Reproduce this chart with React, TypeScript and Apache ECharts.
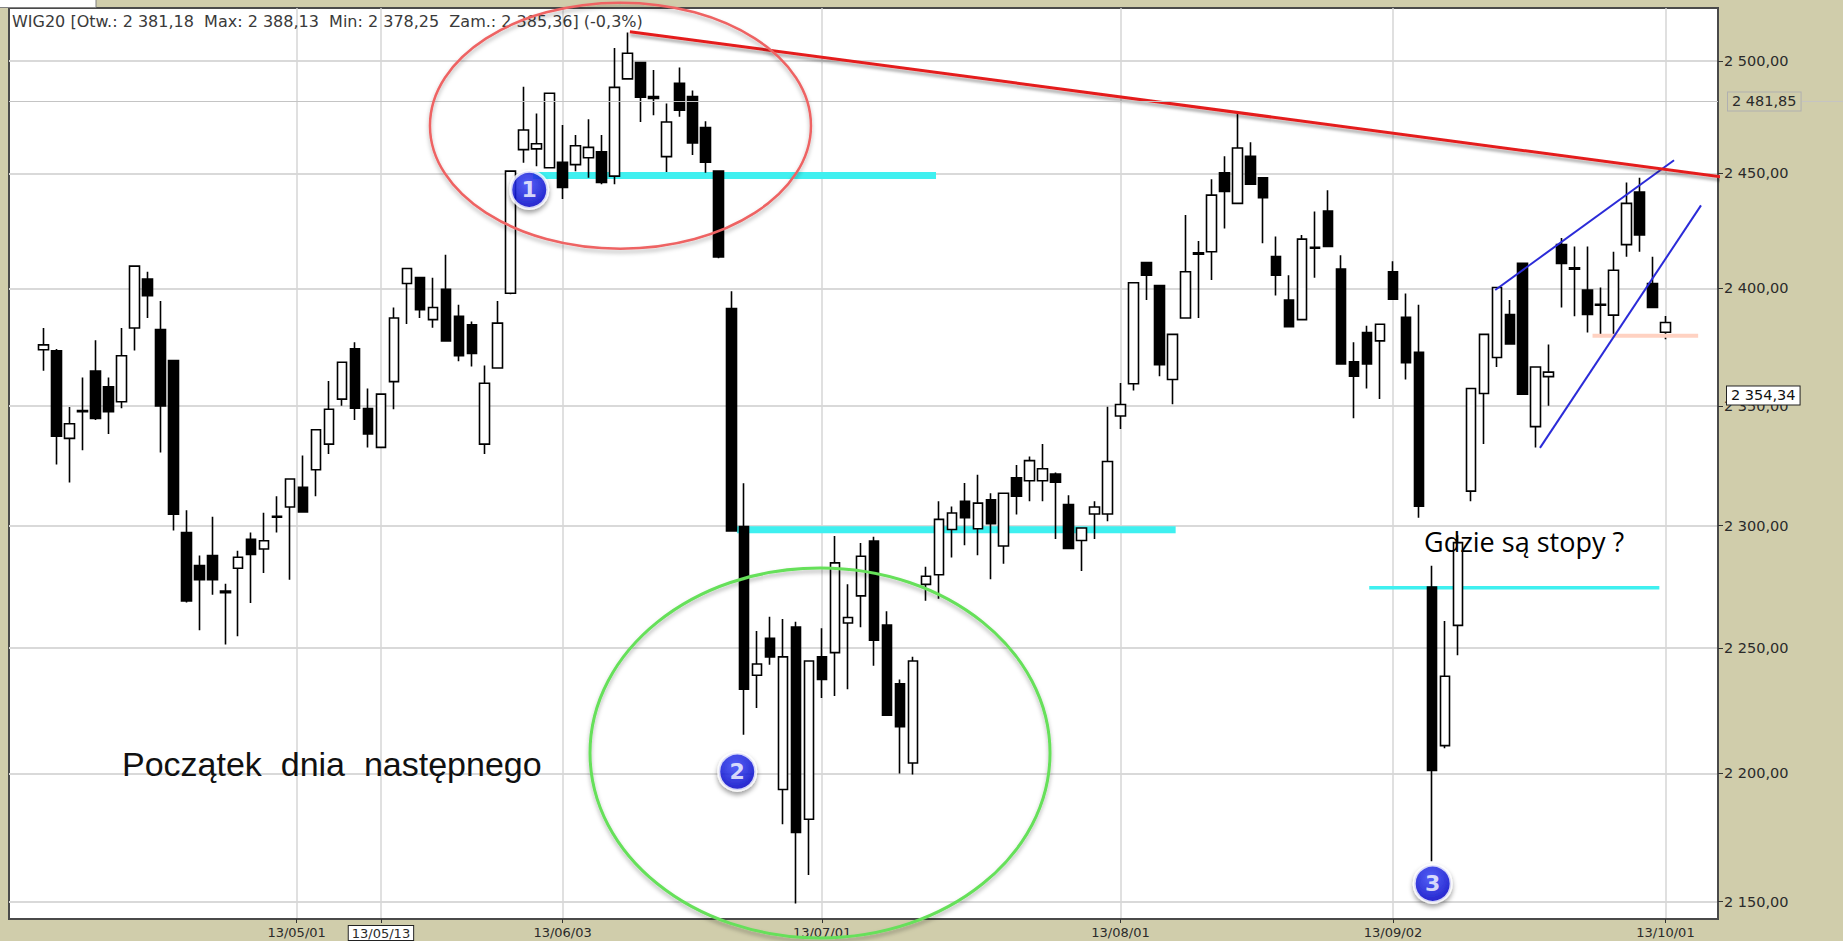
import React, { useEffect, useRef } from 'react';
import * as echarts from 'echarts';

// ---------- data ----------
const HOLIDAYS = ['2013-05-01', '2013-05-03', '2013-05-30', '2013-08-15'];
const FIRST_DAY = '2013-04-03';
const LAST_DAY = '2013-10-01';

const opens = [
  2373.7, 2373.3, 2336.3, 2348.0, 2364.7, 2358.0, 2351.7, 2383.0, 2404.0, 2382.3,
  2369.1, 2297.2, 2283.6, 2287.7, 2273.2, 2282.5, 2294.4, 2290.4, 2303.9, 2307.7,
  2315.9, 2323.2, 2333.9, 2352.8, 2374.1, 2348.8, 2332.5, 2360.2, 2402.1, 2404.7,
  2386.6, 2399.6, 2388.0, 2384.4, 2333.9, 2366.0, 2397.9, 2460.5, 2460.8, 2452.5,
  2454.9, 2453.9, 2456.9, 2459.5, 2448.8, 2491.9, 2499.2, 2484.0, 2457.4, 2489.9,
  2484.0, 2470.3, 2451.0, 2391.3, 2299.6, 2239.1, 2254.0, 2193.7, 2258.5, 2182.0,
  2246.5, 2248.2, 2260.2, 2271.2, 2293.7, 2259.3, 2235.7, 2204.1, 2275.9, 2279.8,
  2298.4, 2310.1, 2298.7, 2310.7, 2291.6, 2319.8, 2318.6, 2318.6, 2321.4, 2308.7,
  2293.9, 2304.8, 2304.8, 2345.7, 2359.3, 2411.2, 2401.2, 2361.1, 2387.3, 2415.4,
  2415.8, 2450.3, 2436.9, 2457.6, 2448.1, 2413.7, 2395.0, 2386.6, 2417.8, 2433.5,
  2408.3, 2368.6, 2381.1, 2377.5, 2407.2, 2387.6, 2372.6, 2274.8, 2211.0, 2259.2,
  2314.3, 2355.2, 2370.4, 2388.8, 2410.8, 2341.2, 2362.3, 2418.9, 2408.9, 2399.3,
  2393.2, 2388.5, 2418.9, 2441.8, 2402.1, 2381.18,
];
const closes = [
  2375.8, 2337.2, 2342.4, 2347.5, 2344.7, 2347.5, 2371.2, 2409.6, 2396.9, 2349.9,
  2304.7, 2269.1, 2277.8, 2277.8, 2272.5, 2287.0, 2288.1, 2293.8, 2303.5, 2319.3,
  2305.7, 2339.9, 2348.5, 2368.4, 2349.0, 2338.1, 2354.9, 2387.3, 2408.6, 2390.8,
  2391.8, 2377.5, 2371.2, 2372.2, 2359.5, 2385.1, 2451.0, 2469.2, 2463.1, 2485.5,
  2443.8, 2462.2, 2461.5, 2446.0, 2488.1, 2503.4, 2483.7, 2483.2, 2472.7, 2477.9,
  2463.4, 2454.9, 2413.6, 2297.8, 2233.5, 2243.6, 2246.5, 2246.5, 2176.8, 2244.8,
  2237.4, 2284.7, 2262.4, 2287.4, 2253.2, 2223.1, 2218.5, 2244.8, 2279.2, 2302.6,
  2305.2, 2303.3, 2309.3, 2300.8, 2313.4, 2312.2, 2327.0, 2323.6, 2318.0, 2290.6,
  2299.0, 2307.7, 2326.6, 2350.5, 2402.4, 2405.7, 2367.4, 2380.3, 2407.2, 2414.8,
  2440.5, 2442.1, 2461.2, 2445.3, 2439.4, 2405.7, 2383.6, 2421.3, 2417.4, 2418.1,
  2367.7, 2362.5, 2367.7, 2384.6, 2395.4, 2368.2, 2308.0, 2201.2, 2238.7, 2293.0,
  2357.3, 2380.3, 2400.4, 2376.2, 2354.9, 2366.4, 2364.2, 2410.8, 2408.3, 2388.8,
  2392.8, 2407.8, 2436.9, 2423.1, 2391.8, 2385.36,
];
const highs = [
  2383.0, 2374.0, 2349.5, 2361.9, 2377.8, 2361.9, 2383.0, 2410.0, 2407.2, 2394.6,
  2369.5, 2306.4, 2287.7, 2303.7, 2276.2, 2289.7, 2297.2, 2305.3, 2312.2, 2319.5,
  2329.1, 2340.2, 2360.5, 2368.6, 2376.9, 2357.3, 2355.2, 2391.8, 2408.9, 2405.0,
  2404.6, 2414.5, 2393.0, 2385.8, 2367.0, 2394.6, 2451.3, 2488.4, 2476.5, 2485.8,
  2471.4, 2467.0, 2473.9, 2467.0, 2505.7, 2512.7, 2499.5, 2495.9, 2480.9, 2497.0,
  2486.7, 2473.1, 2451.3, 2398.8, 2317.6, 2256.9, 2262.7, 2261.8, 2260.7, 2245.1,
  2258.1, 2295.7, 2275.9, 2292.8, 2295.4, 2264.9, 2237.4, 2246.5, 2283.1, 2310.1,
  2307.9, 2317.7, 2321.1, 2313.4, 2313.7, 2325.2, 2328.7, 2333.9, 2322.0, 2312.6,
  2299.3, 2310.1, 2349.6, 2359.6, 2402.7, 2411.5, 2401.5, 2380.6, 2431.8, 2420.5,
  2447.4, 2457.6, 2476.5, 2463.7, 2448.4, 2422.4, 2405.7, 2423.1, 2433.3, 2442.6,
  2414.3, 2376.9, 2384.0, 2384.9, 2411.7, 2397.8, 2393.0, 2283.5, 2261.0, 2296.0,
  2357.6, 2380.6, 2400.7, 2395.0, 2411.2, 2366.7, 2376.0, 2421.8, 2418.1, 2418.1,
  2400.4, 2415.8, 2446.0, 2448.1, 2413.7, 2388.13,
];
const lows = [
  2364.8, 2325.4, 2317.9, 2331.3, 2344.0, 2338.1, 2348.9, 2373.4, 2387.3, 2330.4,
  2298.0, 2268.5, 2257.2, 2271.7, 2251.5, 2254.8, 2268.3, 2280.5, 2297.2, 2277.8,
  2305.3, 2312.2, 2329.7, 2350.0, 2344.0, 2332.5, 2332.2, 2348.5, 2384.7, 2387.3,
  2383.1, 2377.2, 2368.8, 2366.6, 2329.7, 2365.7, 2397.5, 2454.7, 2453.2, 2452.2,
  2438.8, 2451.0, 2448.1, 2445.3, 2445.3, 2491.6, 2472.7, 2475.7, 2450.6, 2475.0,
  2458.1, 2450.3, 2413.0, 2297.5, 2215.3, 2226.0, 2243.3, 2180.0, 2149.3, 2160.3,
  2230.0, 2230.8, 2233.5, 2258.5, 2242.9, 2222.8, 2200.0, 2199.6, 2269.2, 2270.0,
  2286.9, 2291.9, 2287.8, 2278.0, 2284.3, 2304.6, 2310.1, 2310.1, 2294.5, 2290.3,
  2281.4, 2294.5, 2301.8, 2340.2, 2356.4, 2395.0, 2362.5, 2350.6, 2387.0, 2387.3,
  2403.6, 2425.9, 2436.6, 2445.0, 2419.5, 2396.9, 2383.3, 2386.3, 2404.6, 2417.8,
  2367.4, 2344.7, 2357.3, 2352.8, 2395.1, 2361.1, 2303.3, 2165.6, 2210.0, 2247.1,
  2310.1, 2333.9, 2366.4, 2376.0, 2354.6, 2332.5, 2350.0, 2391.8, 2388.0, 2381.1,
  2380.4, 2380.4, 2413.7, 2415.8, 2391.5, 2378.25,
];

const yTickValues = [2150, 2200, 2250, 2300, 2350, 2400, 2450, 2500];
const xLabelDates = ['2013-05-01', '2013-05-13', '2013-06-03', '2013-07-01', '2013-08-01', '2013-09-02', '2013-10-01'];
const cursorDate = '2013-05-13';
const cursorValue = 2481.85;
const markedValue = 2354.34;

// annotations in data coordinates: [candle index, index value]
const resistanceLine = [[45.19, 2513.1], [130.9, 2447.3]];
const cyanLevel1 = [[37.72, 2449.1], [68.78, 2449.1]];
const cyanLevel2 = [[53.44, 2298.3], [87.25, 2298.3]];
const cyanLevel3 = [[102.17, 2274.5], [124.53, 2274.5]];
const channelUpper = [[111.88, 2399.3], [125.66, 2455.8]];
const channelLower = [[115.33, 2332.3], [127.74, 2436.0]];
const salmonLevel = [[119.38, 2379.7], [127.52, 2379.7]];
const markerPoints = [[37.43, 2442.8], [53.46, 2200.7], [107.06, 2156.9]];
const markerLabels = ['1', '2', '3'];
const redEllipseCenter = [44.46, 2471.1];
const greenEllipseCenter = [59.84, 2208.1];

// ---------- helpers ----------
function tradingDays(start: string, end: string): string[] {
  const out: string[] = [];
  const d = new Date(start + 'T00:00:00Z');
  const e = new Date(end + 'T00:00:00Z');
  while (d <= e) {
    const wd = d.getUTCDay();
    const s = d.toISOString().slice(0, 10);
    if (wd !== 0 && wd !== 6 && !HOLIDAYS.includes(s)) out.push(s);
    d.setUTCDate(d.getUTCDate() + 1);
  }
  return out;
}
const dates = tradingDays(FIRST_DAY, LAST_DAY);

function datePos(date: string): number {
  const i = dates.indexOf(date);
  if (i >= 0) return i;
  const j = dates.findIndex((d) => d > date);
  return j - 0.5;
}
const xLabelPositions = xLabelDates.map(datePos);
const shortDate = (d: string) => d.slice(2).replace(/-/g, '/');

function fmt(v: number): string {
  const [i, d] = v.toFixed(2).split('.');
  return i.replace(/\B(?=(\d{3})+(?!\d))/g, ' ') + ',' + d;
}

const candles = opens.map((o, i) => [i, o, closes[i], lows[i], highs[i]]);
const n = opens.length;
const pct = ((closes[n - 1] / closes[n - 2] - 1) * 100).toFixed(1).replace('.', ',');
const header = `WIG20 [Otw.: ${fmt(opens[n - 1])}  Max: ${fmt(highs[n - 1])}  Min: ${fmt(lows[n - 1])}  Zam.: ${fmt(closes[n - 1])}] (${pct}%)`;

// ---------- layout / style ----------
const GRID_LEFT = 9;
const GRID_TOP = 8;
const GRID_W = 1709;
const GRID_H = 913.7;
const X_MIN = -2.667;
const X_MAX = 129.05;
const Y_MIN = 2143.3;
const Y_MAX = 2523.8;
const FONT = 'DejaVu Sans';
const KHAKI = '#d0cdab';

function lineSeries(data: number[][], color: string, width: number, z: number, shadow = false) {
  return {
    type: 'line',
    data,
    symbol: 'none',
    clip: false,
    silent: true,
    z,
    lineStyle: {
      color,
      width,
      ...(shadow ? { shadowColor: 'rgba(0,0,0,0.35)', shadowBlur: 3, shadowOffsetY: 3 } : {}),
    },
  };
}

export default function App() {
  const ref = useRef<HTMLDivElement>(null);
  useEffect(() => {
    const chart = echarts.init(ref.current!, null, { renderer: 'svg' });
    const option: any = {
      animation: false,
      backgroundColor: KHAKI,
      title: {
        text: header,
        left: 12,
        top: 13,
        padding: 0,
        textStyle: { fontFamily: FONT, fontSize: 16, fontWeight: 'normal', color: '#3a3a3a' },
      },
      grid: {
        left: GRID_LEFT,
        top: GRID_TOP,
        width: GRID_W,
        height: GRID_H,
        show: true,
        backgroundColor: '#ffffff',
        borderColor: '#4a4a4a',
        borderWidth: 2,
      },
      xAxis: {
        type: 'value',
        min: X_MIN,
        max: X_MAX,
        position: 'bottom',
        axisLine: { show: true, onZero: false, lineStyle: { color: '#4a4a4a', width: 2 } },
        axisTick: { show: true, customValues: xLabelPositions, length: 4, lineStyle: { color: '#333' } },
        axisLabel: {
          customValues: xLabelPositions,
          margin: 7,
          fontFamily: FONT,
          fontSize: 13,
          color: '#2a2a2a',
          formatter: (v: number) => {
            const k = xLabelPositions.findIndex((p) => Math.abs(p - v) < 0.01);
            if (k < 0) return '';
            const d = xLabelDates[k];
            return d === cursorDate ? `{b|${shortDate(d)}}` : `{n|${shortDate(d)}}`;
          },
          rich: {
            n: { fontFamily: FONT, fontSize: 13, color: '#2a2a2a' },
            b: {
              fontFamily: FONT,
              fontSize: 13,
              color: '#2a2a2a',
              backgroundColor: '#ffffff',
              borderColor: '#222',
              borderWidth: 1,
              padding: [1, 3, 0, 3],
            },
          },
        },
        splitLine: { show: true, lineStyle: { color: '#d6d6d6', width: 1.5 } },
      },
      yAxis: {
        type: 'log',
        logBase: 10,
        min: Y_MIN,
        max: Y_MAX,
        position: 'right',
        axisLine: { show: true, onZero: false, lineStyle: { color: '#4a4a4a', width: 2 } },
        axisTick: { show: true, customValues: yTickValues, length: 5, lineStyle: { color: '#333' } },
        axisLabel: {
          customValues: yTickValues,
          margin: 6,
          fontFamily: FONT,
          fontSize: 14.5,
          color: '#2a2a2a',
          formatter: (v: number) => fmt(Math.round(v * 100) / 100),
        },
        splitLine: { show: true, lineStyle: { color: '#d9d9d9', width: 2 } },
      },
      series: [
        lineSeries(cyanLevel1, '#3ff0f0', 7, 1),
        lineSeries(cyanLevel2, '#3ff0f0', 7, 1),
        lineSeries(cyanLevel3, '#3ff0f0', 3.5, 1),
        {
          type: 'candlestick',
          data: candles,
          barWidth: 10,
          z: 2,
          silent: true,
          itemStyle: {
            color: '#ffffff',
            color0: '#000000',
            borderColor: '#000000',
            borderColor0: '#000000',
            borderWidth: 1.6,
          },
        },
        lineSeries(salmonLevel, '#ffd2c2', 4, 3),
        lineSeries(channelUpper, '#2b2bd8', 2, 3),
        lineSeries(channelLower, '#2b2bd8', 2, 3),
        lineSeries(resistanceLine, '#e41d1d', 3, 3, true),
        {
          type: 'line',
          data: [],
          silent: true,
          clip: false,
          z: 4,
          markLine: {
            silent: true,
            symbol: 'none',
            animation: false,
            data: [
              {
                yAxis: cursorValue,
                lineStyle: { color: '#c4c4c4', width: 1, type: 'solid' },
                label: {
                  show: true,
                  position: 'end',
                  distance: 10,
                  formatter: fmt(cursorValue),
                  fontFamily: FONT,
                  fontSize: 14.5,
                  color: '#2a2a2a',
                  backgroundColor: KHAKI,
                  borderColor: '#b0b0b0',
                  borderWidth: 1,
                  padding: [2, 4, 1, 4],
                },
              },
              {
                yAxis: markedValue,
                lineStyle: { color: 'rgba(0,0,0,0)', width: 1, type: 'solid' },
                label: {
                  show: true,
                  position: 'end',
                  distance: 9,
                  formatter: fmt(markedValue),
                  fontFamily: FONT,
                  fontSize: 14.5,
                  color: '#111111',
                  backgroundColor: '#ffffff',
                  borderColor: '#222222',
                  borderWidth: 1,
                  padding: [2, 4, 1, 4],
                },
              },
            ],
          },
        },
        {
          type: 'scatter',
          z: 5,
          silent: true,
          clip: false,
          symbol: 'circle',
          symbolSize: 37,
          data: markerPoints.map((p, i) => ({ value: p, name: markerLabels[i] })),
          itemStyle: {
            color: {
              type: 'radial',
              x: 0.45,
              y: 0.35,
              r: 0.7,
              colorStops: [
                { offset: 0, color: '#3c4cff' },
                { offset: 1, color: '#0000c8' },
              ],
            },
            borderColor: '#ffffff',
            borderWidth: 3,
            shadowColor: 'rgba(0,0,0,0.45)',
            shadowBlur: 5,
            shadowOffsetY: 3,
          },
          label: {
            show: true,
            position: 'inside',
            formatter: '{b}',
            color: '#ffffff',
            fontFamily: FONT,
            fontWeight: 'bold',
            fontSize: 22,
          },
        },
      ],
    };
    chart.setOption(option);

    const px = (p: number[]) => chart.convertToPixel({ xAxisIndex: 0, yAxisIndex: 0 }, p) as number[];
    const red = px(redEllipseCenter);
    const green = px(greenEllipseCenter);
    const cursorY = px([0, cursorValue])[1];
    chart.setOption({
      graphic: [
        {
          type: 'rect',
          z: 50,
          silent: true,
          shape: { x: -2, y: -2, width: 98, height: 9.5 },
          style: { fill: '#ffffff', stroke: '#808080', lineWidth: 1 },
        },
        {
          type: 'line',
          z: 1,
          silent: true,
          shape: { x1: 1802, y1: cursorY, x2: 1843, y2: cursorY },
          style: { stroke: '#c4c4c4', lineWidth: 1 },
        },
        {
          type: 'ellipse',
          z: 60,
          silent: true,
          shape: { cx: red[0], cy: red[1], rx: 190.5, ry: 123 },
          style: {
            fill: 'none',
            stroke: '#ee6464',
            lineWidth: 2.5,
            shadowColor: 'rgba(0,0,0,0.3)',
            shadowBlur: 4,
            shadowOffsetY: 3,
          },
        },
        {
          type: 'ellipse',
          z: 60,
          silent: true,
          shape: { cx: green[0], cy: green[1], rx: 230, ry: 185 },
          style: {
            fill: 'none',
            stroke: '#66e05a',
            lineWidth: 3,
            shadowColor: 'rgba(0,0,0,0.3)',
            shadowBlur: 4,
            shadowOffsetY: 3,
          },
        },
        {
          type: 'text',
          z: 60,
          silent: true,
          x: 122,
          y: 764,
          style: {
            text: 'Początek  dnia  następnego',
            font: '34px "Liberation Sans"',
            fill: '#111111',
            align: 'left',
            verticalAlign: 'middle',
          },
        },
        {
          type: 'text',
          z: 60,
          silent: true,
          x: 1424,
          y: 541,
          style: {
            text: 'Gdzie są stopy ?',
            font: '27px "Open Sans"',
            fill: '#000000',
            align: 'left',
            verticalAlign: 'middle',
          },
        },
      ],
    });
    return () => chart.dispose();
  }, []);
  return (
    <div
      ref={ref}
      style={{ position: 'absolute', left: 0, top: 0, width: 1843, height: 941 }}
    />
  );
}
